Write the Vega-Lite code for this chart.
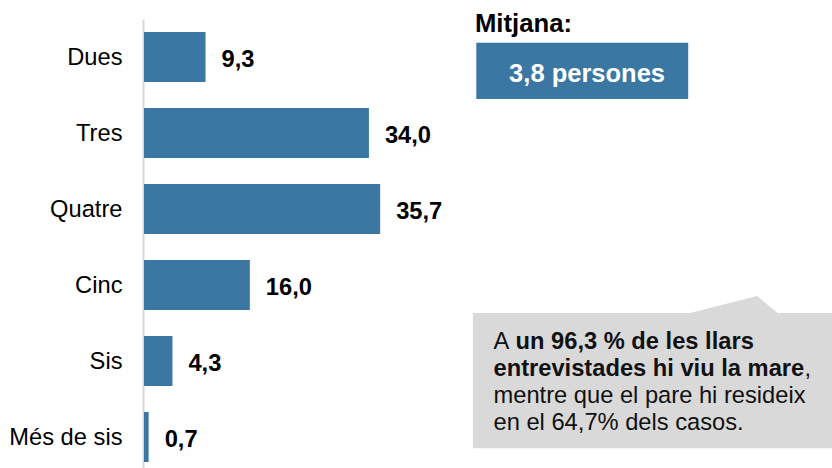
{
  "$schema": "https://vega.github.io/schema/vega-lite/v6.json",
  "width": 688,
  "height": 449,
  "autosize": {"type": "none"},
  "padding": {"left": 144, "top": 19, "right": 0, "bottom": 0},
  "background": "white",
  "config": {"view": {"stroke": null}, "font": "Liberation Sans"},
  "datasets": {
    "bars": [
      {"grup": "Dues", "pct": 9.3, "label": "9,3"},
      {"grup": "Tres", "pct": 34.0, "label": "34,0"},
      {"grup": "Quatre", "pct": 35.7, "label": "35,7"},
      {"grup": "Cinc", "pct": 16.0, "label": "16,0"},
      {"grup": "Sis", "pct": 4.3, "label": "4,3"},
      {"grup": "Més de sis", "pct": 0.7, "label": "0,7"}
    ]
  },
  "layer": [
    {
      "data": {"name": "bars"},
      "encoding": {
        "y": {
          "field": "grup", "type": "nominal", "sort": null,
          "scale": {"paddingInner": 0.342, "paddingOuter": 0.125, "align": 0.684},
          "axis": {"title": null, "ticks": false, "grid": false, "domainColor": "#d9d9d9", "domainWidth": 2, "offset": 1,
                   "labelFontSize": 23.7, "labelColor": "#000000", "labelPadding": 21, "labelOffset": 1.5, "labelFont": "Liberation Sans"}
        },
        "x": {"field": "pct", "type": "quantitative", "scale": {"domain": [0, 104], "nice": false}, "axis": null}
      },
      "layer": [
        {"mark": {"type": "bar", "color": "#3a77a2"}},
        {"mark": {"type": "text", "align": "left", "baseline": "middle", "dx": 16, "dy": 3, "fontSize": 23.7, "fontWeight": "bold", "color": "#000000", "font": "Liberation Sans"},
         "encoding": {"text": {"field": "label"}}}
      ]
    },
    {
      "encoding": {
        "x": {"field": "x", "type": "quantitative", "scale": {"domain": [0, 100], "nice": false, "zero": false}, "axis": null},
        "y": {"field": "y", "type": "quantitative", "scale": {"domain": [0, 100], "nice": false, "zero": false, "reverse": true}, "axis": null}
      },
      "layer": [
        {"data": {"values": [{"x": 48.3, "x2": 79.1, "y": 5.3, "y2": 17.8}]},
         "mark": {"type": "rect", "color": "#3a77a2"},
         "encoding": {"x2": {"field": "x2"}, "y2": {"field": "y2"}}},
        {"data": {"values": [{"x": 47.8, "x2": 100, "y": 65.5, "y2": 95.6}]},
         "mark": {"type": "rect", "color": "#d9d9d9"},
         "encoding": {"x2": {"field": "x2"}, "y2": {"field": "y2"}}},
        {"data": {"values": [{"x": 79.1, "y": 65.6, "y2": 66.5}, {"x": 89.1, "y": 61.7, "y2": 66.5}, {"x": 92.2, "y": 65.6, "y2": 66.5}]},
         "mark": {"type": "area", "color": "#d9d9d9", "orient": "vertical"},
         "encoding": {"y2": {"field": "y2"}}},
        {"data": {"values": [{"x": 48.1, "y": 2.9, "text": "Mitjana:"}]},
         "mark": {"type": "text", "align": "left", "baseline": "alphabetic", "fontSize": 25.7, "fontWeight": "bold", "color": "#000000", "font": "Liberation Sans"},
         "encoding": {"text": {"field": "text"}}},
        {"data": {"values": [{"x": 64.4, "y": 14.0, "text": "3,8 persones"}]},
         "mark": {"type": "text", "align": "center", "baseline": "alphabetic", "fontSize": 25.5, "fontWeight": "bold", "color": "#ffffff", "font": "Liberation Sans"},
         "encoding": {"text": {"field": "text"}}},
        {"data": {"values": [
            {"x": 50.8, "y": 73.5, "text": "A"},
            {"x": 96.0, "y": 79.5, "text": ","},
            {"x": 50.8, "y": 85.5, "text": "mentre que el pare hi resideix"},
            {"x": 50.8, "y": 91.5, "text": "en el 64,7% dels casos."}
          ]},
         "mark": {"type": "text", "align": "left", "baseline": "alphabetic", "fontSize": 23.7, "color": "#111111", "font": "Liberation Sans"},
         "encoding": {"text": {"field": "text"}}},
        {"data": {"values": [
            {"x": 54.0, "y": 73.5, "text": "un 96,3 % de les llars"},
            {"x": 50.8, "y": 79.5, "text": "entrevistades hi viu la mare"}
          ]},
         "mark": {"type": "text", "align": "left", "baseline": "alphabetic", "fontSize": 23.7, "fontWeight": "bold", "color": "#111111", "font": "Liberation Sans"},
         "encoding": {"text": {"field": "text"}}}
      ]
    }
  ],
  "resolve": {"scale": {"x": "independent", "y": "independent"}}
}
